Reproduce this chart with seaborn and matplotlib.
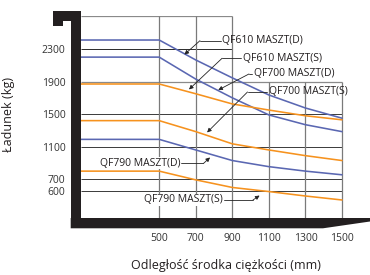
import numpy as np
import pandas as pd
import matplotlib
matplotlib.use('Agg')
import matplotlib.pyplot as plt
import seaborn as sns
from matplotlib.patches import Polygon

# odleglosc srodka ciezkosci (mm) i udzwig (kg) dla kazdego masztu
odl = [0, 500, 700, 900, 1100, 1300, 1500]
qf610_d = [2410, 2410, 2165, 1945, 1735, 1575, 1450]
qf610_s = [2200, 2200, 1930, 1700, 1490, 1370, 1285]
qf700_d = [1870, 1870, 1750, 1625, 1550, 1480, 1430]
qf700_s = [1420, 1420, 1285, 1135, 1060, 990, 930]
qf790_d = [1190, 1190, 1060, 930, 855, 800, 755]
qf790_s = [800, 800, 695, 630, 595, 557, 523]

x_ticks = [500, 700, 900, 1100, 1300, 1500]
y_ticks = [2300, 1900, 1500, 1100, 700, 600]

BLUE = '#5a67b2'
ORANGE = '#f6921e'
series = {
    'QF610 MASZT(D)': (qf610_d, BLUE),
    'QF610 MASZT(S)': (qf610_s, BLUE),
    'QF700 MASZT(D)': (qf700_d, ORANGE),
    'QF700 MASZT(S)': (qf700_s, ORANGE),
    'QF790 MASZT(D)': (qf790_d, BLUE),
    'QF790 MASZT(S)': (qf790_s, ORANGE),
}

rows = []
for name, (vals, _) in series.items():
    for x, v in zip(odl, vals):
        rows.append({'odl': x, 'ladunek': v, 'seria': name})
df = pd.DataFrame(rows)
palette = {k: c for k, (_, c) in series.items()}

sns.set_theme(style='white')
plt.rcParams['font.family'] = ['Open Sans', 'DejaVu Sans']

W, H = 370, 275
fig = plt.figure(figsize=(W / 100, H / 100), dpi=100)
ax = fig.add_axes([80.7 / W, (H - 218) / H, (W - 80.7) / W, (218 - 16.4) / H])


# skala rozciagnieta ponizej 700 kg (jak na oryginale)
def fwd(v):
    v = np.asarray(v, dtype=float)
    return np.where(v >= 700, v, 700 - (700 - v) * 1.4366)


def inv(u):
    u = np.asarray(u, dtype=float)
    return np.where(u >= 700, u, 700 - (700 - u) / 1.4366)


sns.lineplot(data=df, x='odl', y='ladunek', hue='seria', palette=palette,
             estimator=None, lw=1.15, legend=False, ax=ax, zorder=3)

ax.set_yscale('function', functions=(fwd, inv))
ax.set_xlim(70.6, 1653)
ax.set_ylim(369, 2700)
ax.set_xticks(x_ticks)
ax.set_yticks(y_ticks)
ax.tick_params(length=0, pad=11, labelsize=7.5, colors='#333333')
for s in ax.spines.values():
    s.set_visible(False)
ax.grid(False)
ax.set_xlabel('')
ax.set_ylabel('')

# schodkowa siatka
xmin = 70.6
ax.hlines([2700], xmin, 900, color='#8a8a8a', lw=0.9, zorder=1)
ax.hlines([2300], xmin, 900, color='#2a2a2a', lw=0.7, zorder=1)
ax.hlines([1900], xmin, 1500, color='#8a8a8a', lw=0.9, zorder=1)
ax.hlines([1500, 1100, 700, 600], xmin, 1500, color='#3a3a3a', lw=0.7, zorder=1)
ax.vlines([500, 700, 900], 369, 2700, color='#7a7a7a', lw=0.9, zorder=1)
ax.vlines([1100, 1300, 1500], 369, 1900, color='#7a7a7a', lw=0.9, zorder=1)

# opisy z odnosnikami: tekst, punkt zalamania, grot
arrow = dict(arrowstyle='-|>', color='#222222', lw=0.6, mutation_scale=6,
             shrinkA=0, shrinkB=0)
right_labels = [
    ('QF610 MASZT(D)', 844, 2402, 723, (638, 2232)),
    ('QF610 MASZT(S)', 956, 2186, 844, (663, 1803)),
    ('QF700 MASZT(D)', 1016, 1993, 991, (823, 1796)),
    ('QF700 MASZT(S)', 1098, 1772, 983, (762, 1275)),
]
for name, tx, ty, ex, tip in right_labels:
    ax.text(tx, ty, name, ha='left', va='center', fontsize=7.5,
            color='#231f20', zorder=5)
    ax.plot([ex, tx - 6], [ty, ty], color='#222222', lw=0.6, zorder=4)
    ax.annotate('', xy=tip, xytext=(ex, ty), arrowprops=arrow, zorder=4)

left_labels = [
    ('QF790 MASZT(D)', 614, 894, 742, (778, 968)),
    ('QF790 MASZT(S)', 849, 523, 1013, (1049, 561)),
]
for name, tx, ty, ex, tip in left_labels:
    ax.text(tx, ty, name, ha='right', va='center', fontsize=7.5,
            color='#231f20', zorder=5,
            bbox=dict(facecolor='white', edgecolor='none', pad=0.4))
    ax.plot([tx + 6, ex], [ty, ty], color='#222222', lw=0.6, zorder=4)
    ax.annotate('', xy=tip, xytext=(ex, ty), arrowprops=arrow, zorder=4)

ax.set_ylabel('Ładunek (kg)', fontsize=9, color='#231f20')
ax.yaxis.set_label_coords(-0.227, 0.511)
ax.set_xlabel('Odległość środka ciężkości (mm)', fontsize=9, color='#231f20')
ax.xaxis.set_label_coords(0.502, -0.205)


# widly (czarny ksztalt)
def px(pts):
    return [(x / W, 1 - y / H) for x, y in pts]


fork_v = [(52.7, 11), (80.7, 11), (80.7, 228.3), (70.7, 228.3), (70.7, 20.5),
          (63.3, 20.5), (63.3, 25.7), (52.7, 25.7)]
fork_h = [(70.7, 218), (370, 218), (370, 221.5), (323, 228.3), (70.7, 228.3)]
for pts in (fork_v, fork_h):
    fig.add_artist(Polygon(px(pts), closed=True, transform=fig.transFigure,
                           facecolor='#231f20', edgecolor='none', zorder=6))

fig.savefig('out.png', dpi=100)
